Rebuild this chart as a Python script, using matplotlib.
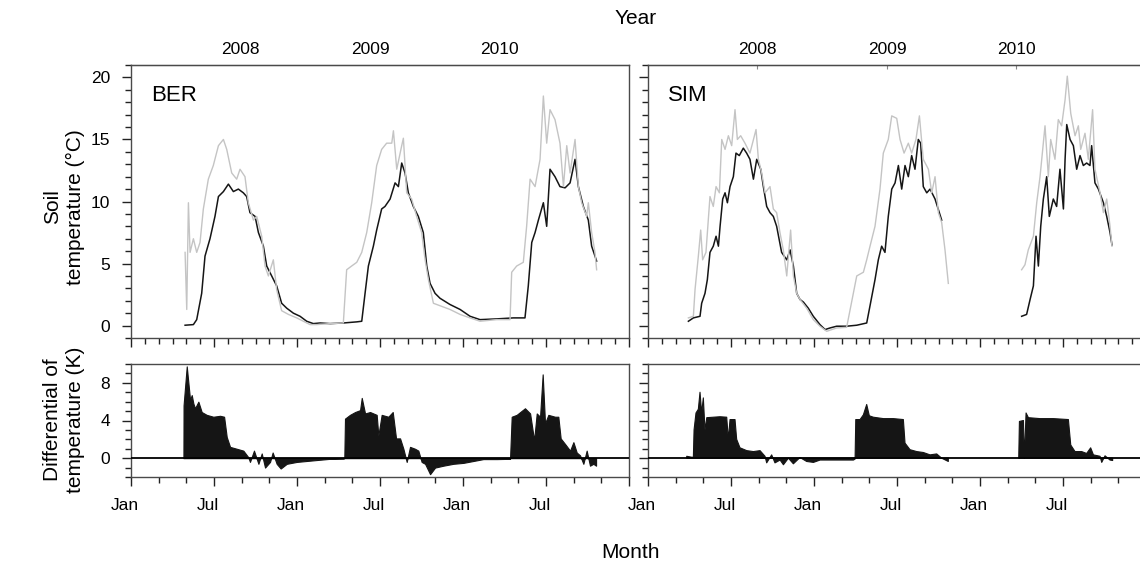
import numpy as np
import matplotlib.pyplot as plt
import matplotlib.transforms as mtransforms
from matplotlib.ticker import MultipleLocator, FixedLocator, FixedFormatter, NullFormatter

plt.rcParams['font.family'] = ['Liberation Sans', 'DejaVu Sans']

nan = np.nan

# x values: months since 1 Jan 2008
ber_black_m = [3.91, 4.51, 4.75, 5.11, 5.35, 5.71, 6.07, 6.32, 6.68, 7.04, 7.40, 7.76, 8.12, 8.36, 8.60, 8.97,
               9.21, 9.57, 9.81, 10.17, 10.53, 10.89, 11.26, 11.74, 12.22, 12.70, 13.18, 13.67, 14.39, 15.35,
               16.32, 16.68, 16.92, 17.16, 17.52, 17.76, 18.12, 18.36, 18.73, 19.09, 19.33, 19.57, 19.81, 20.05,
               20.41, 20.77, 21.13, 21.38, 21.62, 21.98, 22.34, 23.06, 23.79, 24.51, 25.23, 26.44, 27.64, 28.48,
               28.72, 28.97, 29.21, 29.45, 29.81, 30.05, 30.29, 30.65, 31.01, 31.38, 31.74, 32.10, 32.34, 32.70,
               33.06, 33.30, 33.54, 33.66]
ber_black_t = [0.03, 0.08, 0.48, 2.6, 5.6, 7.0, 8.8, 10.4, 10.8, 11.4, 10.8, 11.0, 10.7, 10.4, 9.1, 8.8,
               7.5, 6.4, 4.8, 4.0, 3.2, 1.8, 1.4, 1.0, 0.75, 0.35, 0.16, 0.21, 0.16, 0.21,
               0.3, 0.35, 2.6, 4.8, 6.4, 7.7, 9.4, 9.6, 10.2, 11.5, 11.2, 13.1, 12.3, 10.7,
               9.6, 8.8, 7.5, 4.8, 3.4, 2.6, 2.2, 1.7, 1.3, 0.75, 0.48, 0.54, 0.62, 0.62,
               3.2, 6.7, 7.5, 8.5, 9.9, 8.0, 12.6, 12.0, 11.2, 11.1, 11.5, 13.4, 11.2, 9.6,
               8.5, 6.4, 5.6, 5.2]

ber_grey_m = [3.91, 4.03, 4.15, 4.27, 4.51, 4.75, 4.99, 5.23, 5.59, 5.95, 6.32, 6.68, 6.92, 7.28, 7.64, 7.88,
              8.24, 8.48, 8.85, 9.09, 9.45, 9.69, 9.93, 10.29, 10.53, 10.89, 11.38, 11.98, 12.46, 12.94, 13.42,
              14.39, 15.35, 15.59, 15.95, 16.32, 16.68, 17.04, 17.40, 17.76, 18.12, 18.48, 18.85, 18.97, 19.21,
              19.57, 19.69, 19.93, 20.29, 20.65, 21.01, 21.26, 21.50, 21.86, 22.34, 23.06, 23.79, 24.51, 25.23,
              26.44, 27.40, 27.52, 27.88, 28.36, 28.60, 28.85, 29.21, 29.57, 29.81, 30.05, 30.29, 30.65, 31.01,
              31.26, 31.50, 31.74, 32.10, 32.34, 32.58, 32.94, 33.06, 33.30, 33.54, 33.66]
ber_grey_t = [5.9, 1.3, 9.9, 5.9, 7.0, 5.9, 6.7, 9.4, 11.8, 12.9, 14.5, 15.0, 14.2, 12.3, 11.8, 12.6,
              12.0, 9.9, 8.5, 8.8, 7.2, 4.8, 4.0, 5.3, 2.9, 1.2, 0.9, 0.62, 0.35, 0.08, 0.08,
              0.16, 0.21, 4.5, 4.8, 5.1, 5.9, 7.5, 9.9, 12.9, 14.2, 14.7, 14.7, 15.7, 12.6,
              14.5, 15.1, 10.7, 10.2, 8.8, 7.5, 5.3, 3.7, 1.8, 1.6, 1.3, 0.9, 0.62, 0.35,
              0.48, 0.48, 4.3, 4.8, 5.1, 8.0, 11.8, 11.2, 13.4, 18.5, 14.7, 17.4, 16.6, 14.7,
              11.2, 14.5, 12.3, 15.0, 11.2, 9.9, 8.8, 9.9, 7.5, 5.9, 4.5]

sim_black_m = [2.92, 3.28, 3.76, 3.88, 4.12, 4.29, 4.48, 4.72, 4.92, 5.09, 5.21, 5.40, 5.57, 5.74, 5.93, 6.17,
               6.36, 6.60, 6.89, 7.13, 7.37, 7.62, 7.86, 8.15, 8.34, 8.58, 8.82, 9.06, 9.30, 9.66, 10.03,
               10.27, 10.51, 10.75, 10.99, 11.23, 11.59, 11.95, 12.43, 12.80, 13.16, 13.64, 14.36, 15.09, 15.81,
               16.05, 16.41, 16.65, 16.89, 17.13, 17.37, 17.62, 17.86, 18.10, 18.34, 18.58, 18.82, 19.06, 19.30,
               19.54, 19.71, 19.90, 20.15, 20.39, 20.75, 21.23, nan,
               27.01, 27.37, 27.62, 27.86, 28.05, 28.22, 28.39, 28.58, 28.82, 29.01, 29.30, 29.54, 29.78, 30.03,
               30.15, 30.27, 30.51, 30.75, 30.99, 31.23, 31.47, 31.71, 31.95, 32.07, 32.31, 32.56, 32.92, 33.16,
               33.40, 33.54]
sim_black_t = [0.35, 0.62, 0.75, 1.8, 2.6, 3.7, 5.9, 6.4, 7.2, 6.4, 8.0, 10.2, 10.7, 9.9, 11.2, 12.0,
               13.9, 13.7, 14.3, 13.9, 13.4, 11.8, 13.4, 12.6, 11.2, 9.6, 9.1, 8.8, 8.0, 5.9, 5.3,
               6.1, 4.8, 2.6, 2.1, 1.9, 1.4, 0.75, 0.08, -0.32, -0.19, -0.05, -0.05, 0.03, 0.21,
               1.6, 3.7, 5.3, 6.4, 5.9, 8.8, 11.0, 11.5, 12.9, 11.0, 12.9, 12.0, 13.7, 12.6,
               15.0, 14.7, 11.2, 10.7, 11.0, 10.2, 8.5, nan,
               0.75, 0.9, 2.1, 3.2, 7.2, 4.8, 8.0, 10.2, 12.0, 8.8, 10.2, 9.6, 12.6, 9.4,
               13.4, 16.2, 15.0, 14.5, 12.6, 13.7, 12.9, 13.1, 12.9, 14.5, 11.5, 11.0, 9.9, 8.8,
               7.5, 6.5]

sim_grey_m = [2.92, 3.28, 3.40, 3.64, 3.81, 3.95, 4.19, 4.48, 4.72, 4.92, 5.16, 5.33, 5.57, 5.81, 6.05, 6.29,
              6.46, 6.70, 7.01, 7.37, 7.81, 7.98, 8.22, 8.46, 8.82, 9.06, 9.30, 9.54, 9.78, 10.03, 10.31,
              10.51, 10.75, 10.99, 11.47, 11.95, 12.43, 12.92, 13.64, 14.36, 15.09, 15.57, 15.81, 16.05, 16.41,
              16.77, 17.01, 17.37, 17.62, 17.98, 18.22, 18.51, 18.82, 19.06, 19.37, 19.62, 19.90, 20.27, 20.51,
              20.75, 20.99, 21.23, 21.47, 21.71, nan,
              27.01, 27.25, 27.49, 27.86, 28.10, 28.34, 28.70, 28.94, 29.11, 29.42, 29.66, 29.90, 30.15, 30.31,
              30.56, 30.87, 31.11, 31.28, 31.59, 31.83, 32.14, 32.31, 32.68, 32.92, 33.16, 33.40, 33.54]
sim_grey_t = [0.62, 0.75, 2.9, 5.6, 7.7, 5.3, 5.9, 10.4, 9.6, 11.2, 10.7, 15.0, 14.2, 15.3, 14.5, 17.4,
              15.0, 15.3, 14.7, 13.9, 15.8, 13.4, 12.3, 10.7, 11.2, 9.4, 9.1, 7.5, 6.1, 4.0, 7.7,
              4.0, 2.6, 2.1, 1.4, 0.48, -0.05, -0.46, -0.19, -0.14, 4.0, 4.3, 5.3, 6.4, 8.0,
              11.0, 13.9, 15.0, 16.9, 16.7, 15.0, 13.9, 14.7, 13.9, 15.0, 16.9, 13.4, 12.6, 10.7,
              12.0, 9.1, 8.3, 6.1, 3.4, nan,
              4.5, 4.9, 6.1, 7.2, 9.9, 12.0, 16.1, 12.0, 15.0, 13.4, 16.6, 16.1, 18.2, 20.1,
              17.1, 15.3, 16.1, 14.2, 15.5, 13.4, 17.4, 12.6, 10.7, 9.1, 10.2, 8.0, 6.4]

ber_diff_m = [3.79, 3.80, 4.03, 4.27, 4.39, 4.51, 4.63, 4.87, 5.11, 5.47, 5.95, 6.44, 6.73, 6.92, 7.16, 7.64,
              8.12, 8.48, 8.60, 8.89, 9.21, 9.45, 9.69, 10.05, 10.24, 10.53, 10.82, 11.26, 11.98, 12.70, 13.42,
              14.39, 15.35, 15.42, 15.47, 15.83, 16.20, 16.56, 16.68, 16.92, 17.28, 17.76, 17.88, 18.12, 18.60,
              18.92, 19.16, 19.45, 19.69, 19.93, 20.17, 20.53, 20.77, 21.01, 21.26, 21.62, 21.98, 22.58, 23.30,
              24.03, 24.75, 25.47, 26.44, 27.40, 27.52, 27.88, 28.48, 28.85, 29.14, 29.33, 29.57, 29.76, 29.93,
              30.17, 30.65, 30.89, 31.06, 31.38, 31.74, 31.98, 32.22, 32.46, 32.70, 32.94, 33.18, 33.42, 33.62]
ber_diff_k = [0.0, 5.6, 9.75, 6.2, 6.7, 5.8, 5.3, 6.0, 4.9, 4.6, 4.4, 4.5, 4.4, 2.25, 1.2, 1.0,
              0.8, 0.1, -0.4, 0.8, -0.6, 0.5, -1.0, -0.4, 0.6, -0.6, -1.1, -0.6, -0.4, -0.3, -0.2,
              -0.07, -0.04, 0.0, 4.2, 4.6, 4.9, 5.1, 6.4, 4.75, 4.9, 4.6, 2.4, 4.6, 4.4,
              4.9, 2.1, 2.1, 1.0, -0.4, 1.2, 1.0, 0.8, -0.4, -0.6, -1.7, -1.0, -0.8, -0.6,
              -0.5, -0.3, -0.1, -0.1, -0.07, 4.4, 4.6, 5.3, 4.75, 1.9, 4.75, 4.4, 8.9, 3.7,
              4.6, 4.4, 4.4, 2.1, 1.5, 0.8, 1.7, 0.6, 0.3, -0.6, 0.8, -0.8, -0.6, -0.8]

sim_diff_m = [2.80, 3.16, 3.28, 3.33, 3.47, 3.64, 3.76, 3.88, 4.00, 4.12, 4.25, 4.73, 5.21, 5.69, 5.81, 5.93,
              6.29, 6.41, 6.65, 7.14, 7.62, 8.10, 8.46, 8.58, 8.94, 9.18, 9.55, 9.79, 10.15, 10.51, 10.99,
              11.47, 11.96, 12.44, 13.40, 14.85, 14.97, 15.02, 15.33, 15.57, 15.81, 16.00, 16.29, 17.02, 17.74,
              18.46, 18.58, 18.94, 19.43, 19.91, 20.39, 20.87, 21.23, 21.71, nan,
              26.80, 26.85, 27.14, 27.21, 27.33, 27.50, 28.34, 29.31, 30.39, 30.56, 30.87, 31.35, 31.71, 32.00,
              32.20, 32.68, 32.80, 33.04, 33.40, 33.59]
sim_diff_k = [0.2, 0.1, 0.1, 3.0, 4.8, 5.2, 7.0, 4.8, 6.4, 3.0, 4.3, 4.35, 4.4, 4.35, 2.0, 4.1,
              4.1, 2.0, 1.1, 0.8, 0.7, 0.8, 0.2, -0.5, 0.35, -0.5, -0.2, -0.7, 0.0, -0.6, 0.07,
              -0.35, -0.45, -0.2, -0.2, -0.2, -0.1, 4.1, 4.1, 4.6, 5.7, 4.5, 4.35, 4.2, 4.2,
              4.1, 1.6, 0.9, 0.7, 0.6, 0.35, 0.45, 0.0, -0.35, nan,
              0.0, 3.9, 4.0, 0.0, 4.8, 4.3, 4.2, 4.2, 4.1, 1.4, 0.7, 0.7, 0.5, 1.1,
              0.35, 0.2, -0.45, 0.25, -0.2, -0.25]

month_ticks = [0, 6, 12, 18, 24, 30, 36]
month_labels = ['Jan', 'Jul', 'Jan', 'Jul', 'Jan', 'Jul', '']
year_pos = [7.9, 17.3, 26.6]
year_labels = ['2008', '2009', '2010']

W, H = 1140, 566
fig = plt.figure(figsize=(W / 100, H / 100), dpi=100)


def rect(x0, x1, y0, y1):
    return [x0 / W, 1 - y1 / H, (x1 - x0) / W, (y1 - y0) / H]


ax_tl = fig.add_axes(rect(131, 629, 65, 338))
ax_tr = fig.add_axes(rect(648, 1146, 65, 338))
ax_bl = fig.add_axes(rect(131, 629, 364, 477))
ax_br = fig.add_axes(rect(648, 1146, 364, 477))

grey = '#c4c4c4'
dark = '#151515'
spine_col = '#4a4a4a'

for ax, bm, bt, gm, gt, name in [(ax_tl, ber_black_m, ber_black_t, ber_grey_m, ber_grey_t, 'BER'),
                                 (ax_tr, sim_black_m, sim_black_t, sim_grey_m, sim_grey_t, 'SIM')]:
    ax.plot(bm, bt, color=dark, lw=1.1, zorder=3)
    ax.plot(gm, gt, color=grey, lw=1.0, zorder=4)
    ax.set_ylim(-1, 21)
    ax.yaxis.set_major_locator(MultipleLocator(5))
    ax.yaxis.set_minor_locator(MultipleLocator(1))
    ax.xaxis.set_major_locator(MultipleLocator(6))
    ax.xaxis.set_minor_locator(MultipleLocator(1))
    ax.xaxis.set_major_formatter(NullFormatter())
    ax.text(0.04, 0.925, name, transform=ax.transAxes, fontsize=16, va='top', ha='left')
    sec = ax.secondary_xaxis('top')
    sec.set_xticks(year_pos, year_labels)
    sec.tick_params(length=3 if name == 'SIM' else 0, direction='in', pad=6, labelsize=12.5,
                    color='#888888')

for ax, dm, dk in [(ax_bl, ber_diff_m, ber_diff_k), (ax_br, sim_diff_m, sim_diff_k)]:
    dm_a = np.array(dm, dtype=float)
    dk_a = np.array(dk, dtype=float)
    ax.fill_between(dm_a, 0, dk_a, color=dark, lw=0.8, edgecolor=dark, zorder=3)
    ax.axhline(0, color='black', lw=1.3, zorder=4)
    ax.set_ylim(-2, 10)
    ax.yaxis.set_major_locator(FixedLocator([0, 4, 8]))
    ax.yaxis.set_minor_locator(MultipleLocator(1))
    ax.xaxis.set_major_locator(FixedLocator(month_ticks))
    ax.xaxis.set_minor_locator(MultipleLocator(2))
    ax.xaxis.set_major_formatter(FixedFormatter(month_labels))

for ax in [ax_tl, ax_tr, ax_bl, ax_br]:
    ax.set_xlim(0, 36)
    for s in ax.spines.values():
        s.set_color(spine_col)
        s.set_linewidth(1.0)
    ax.tick_params(which='major', direction='out', length=6.5, width=1, color='#222222',
                   labelsize=12.5, pad=8.5)
    ax.tick_params(which='minor', direction='out', length=4.2, width=1, color='#222222')

for ax in [ax_tr, ax_br]:
    ax.tick_params(axis='y', labelleft=False)

# month labels sit slightly left of their ticks in the original
shift = mtransforms.ScaledTranslation(-6 / 100, 0, fig.dpi_scale_trans)
fig.canvas.draw()
for ax in [ax_bl, ax_br]:
    for lab in ax.get_xticklabels():
        lab.set_transform(lab.get_transform() + shift)

fig.text(64 / W, 1 - 207 / H, 'Soil\ntemperature (\u00b0C)', rotation=90, ha='center', va='center',
         fontsize=15, multialignment='center', linespacing=1.25)
fig.text(64 / W, 1 - 420 / H, 'Differential of\ntemperature (K)', rotation=90, ha='center', va='center',
         fontsize=15, multialignment='center', linespacing=1.25)
fig.text(630 / W, 1 - 553 / H, 'Month', ha='center', va='center', fontsize=15)
fig.text(636 / W, 1 - 19 / H, 'Year', ha='center', va='center', fontsize=15)

fig.savefig('out.png', dpi=100)
